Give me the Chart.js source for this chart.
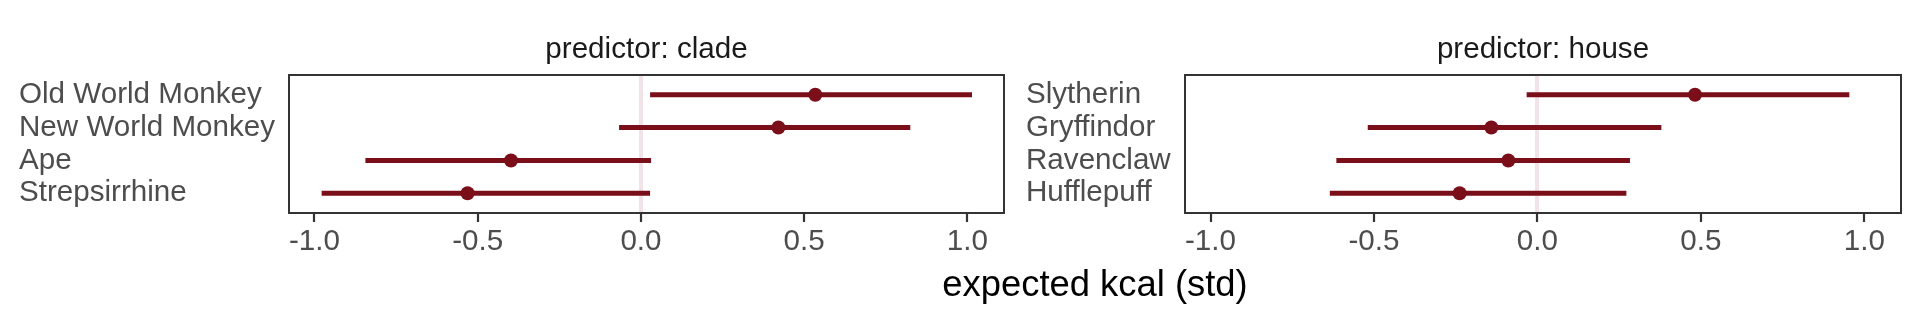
<!DOCTYPE html>
<html>
<head>
<meta charset="utf-8">
<script src="https://cdn.jsdelivr.net/npm/chart.js@4.4.1/dist/chart.umd.min.js"></script>
<style>
  html, body { margin: 0; padding: 0; background: #fff; }
  #wrap { position: relative; width: 1920px; height: 319px; }
  #wrap canvas { position: absolute; left: 0; top: 0; }
</style>
</head>
<body>
<div id="wrap">
  <canvas id="clade" width="1920" height="319"></canvas>
  <canvas id="house" width="1920" height="319"></canvas>
</div>
<script>
// clade panel
const cladeNames = ["Old World Monkey", "New World Monkey", "Ape", "Strepsirrhine"];
const cladeMean = [0.534, 0.421, -0.398, -0.531];
const cladeLow = [0.028, -0.067, -0.844, -0.978];
const cladeHigh = [1.014, 0.825, 0.031, 0.028];

// house panel
const houseNames = ["Slytherin", "Gryffindor", "Ravenclaw", "Hufflepuff"];
const houseMean = [0.482, -0.141, -0.089, -0.238];
const houseLow = [-0.033, -0.519, -0.615, -0.635];
const houseHigh = [0.954, 0.379, 0.283, 0.272];

const xTicks = [-1, -0.5, 0, 0.5, 1];
const xMin = -1.078, xMax = 1.112;

const RED = "#7a0e19";
const FONT = "'Liberation Sans', Arial, sans-serif";
const TXT = 29.6;

const stripPlugin = {
  id: "strip",
  afterDraw(chart, args, opts) {
    const { ctx, chartArea } = chart;
    ctx.save();
    ctx.font = TXT + "px " + FONT;
    ctx.fillStyle = "#1a1a1a";
    ctx.textAlign = "center";
    ctx.textBaseline = "alphabetic";
    ctx.fillText(opts.text, (chartArea.left + chartArea.right) / 2, 58);
    ctx.restore();
  }
};

const boxPlugin = {
  id: "box",
  afterDatasetsDraw(chart) {
    const { ctx, chartArea } = chart;
    ctx.save();
    ctx.strokeStyle = "#333333";
    ctx.lineWidth = 2;
    ctx.strokeRect(chartArea.left, chartArea.top, chartArea.right - chartArea.left, chartArea.bottom - chartArea.top);
    ctx.restore();
  }
};

let cladeChart = null;

// shared x title, centred across both panels
const xTitlePlugin = {
  id: "xtitle",
  afterDraw(chart) {
    if (!cladeChart) return;
    const { ctx } = chart;
    const mid = (cladeChart.chartArea.left + chart.chartArea.right) / 2;
    ctx.save();
    ctx.font = "36.4px " + FONT;
    ctx.fillStyle = "#000000";
    ctx.textAlign = "center";
    ctx.textBaseline = "alphabetic";
    ctx.fillText("expected kcal (std)", mid, 296);
    ctx.restore();
  }
};

function makePanel(id, title, names, mean, low, high, padLeft, padRight, labelWidth, extra) {
  const rows = names.map((n, i) => i + 1);
  const datasets = [{
    data: mean.map((m, i) => ({ x: m, y: rows[i] })),
    pointRadius: 7,
    pointBackgroundColor: RED,
    pointBorderWidth: 0,
    order: 0
  }];
  rows.forEach((r, i) => {
    datasets.push({
      data: [{ x: low[i], y: r }, { x: high[i], y: r }],
      showLine: true,
      borderColor: RED,
      borderWidth: 5,
      borderCapStyle: "butt",
      pointRadius: 0,
      order: 1
    });
  });

  return new Chart(document.getElementById(id), {
    type: "scatter",
    data: { datasets },
    options: {
      responsive: false,
      animation: false,
      events: [],
      layout: { padding: { left: padLeft, right: padRight, top: 75, bottom: 56 } },
      plugins: {
        legend: { display: false },
        tooltip: { enabled: false },
        strip: { text: title }
      },
      scales: {
        x: {
          type: "linear",
          min: xMin,
          max: xMax,
          afterBuildTicks: (s) => { s.ticks = xTicks.map(v => ({ value: v })); },
          afterFit: (s) => { s.height = 50; },
          border: { display: false },
          grid: {
            color: (c) => (c.tick && c.tick.value === 0 ? "#f1e3e8" : "rgba(0,0,0,0)"),
            lineWidth: (c) => (c.tick && c.tick.value === 0 ? 4 : 0),
            tickColor: "#333333",
            tickWidth: 2.2,
            tickLength: 9
          },
          ticks: {
            padding: 2,
            color: "#4d4d4d",
            font: { family: FONT, size: TXT },
            maxRotation: 0,
            callback: (v) => v.toFixed(1)
          }
        },
        y: {
          type: "linear",
          reverse: true,
          min: 0.4,
          max: 4.6,
          afterBuildTicks: (s) => { s.ticks = rows.map(v => ({ value: v })); },
          afterFit: (s) => { s.width = labelWidth; },
          border: { display: false },
          grid: { display: false },
          ticks: {
            autoSkip: false,
            crossAlign: "far",
            color: "#4d4d4d",
            font: { family: FONT, size: TXT },
            callback: (v) => names[v - 1]
          }
        }
      }
    },
    plugins: [stripPlugin, boxPlugin].concat(extra || [])
  });
}

cladeChart = makePanel("clade", "predictor: clade", cladeNames, cladeMean, cladeLow, cladeHigh, 19, 916, 270);
makePanel("house", "predictor: house", houseNames, houseMean, houseLow, houseHigh, 1026, 19, 159, [xTitlePlugin]);
</script>
</body>
</html>
